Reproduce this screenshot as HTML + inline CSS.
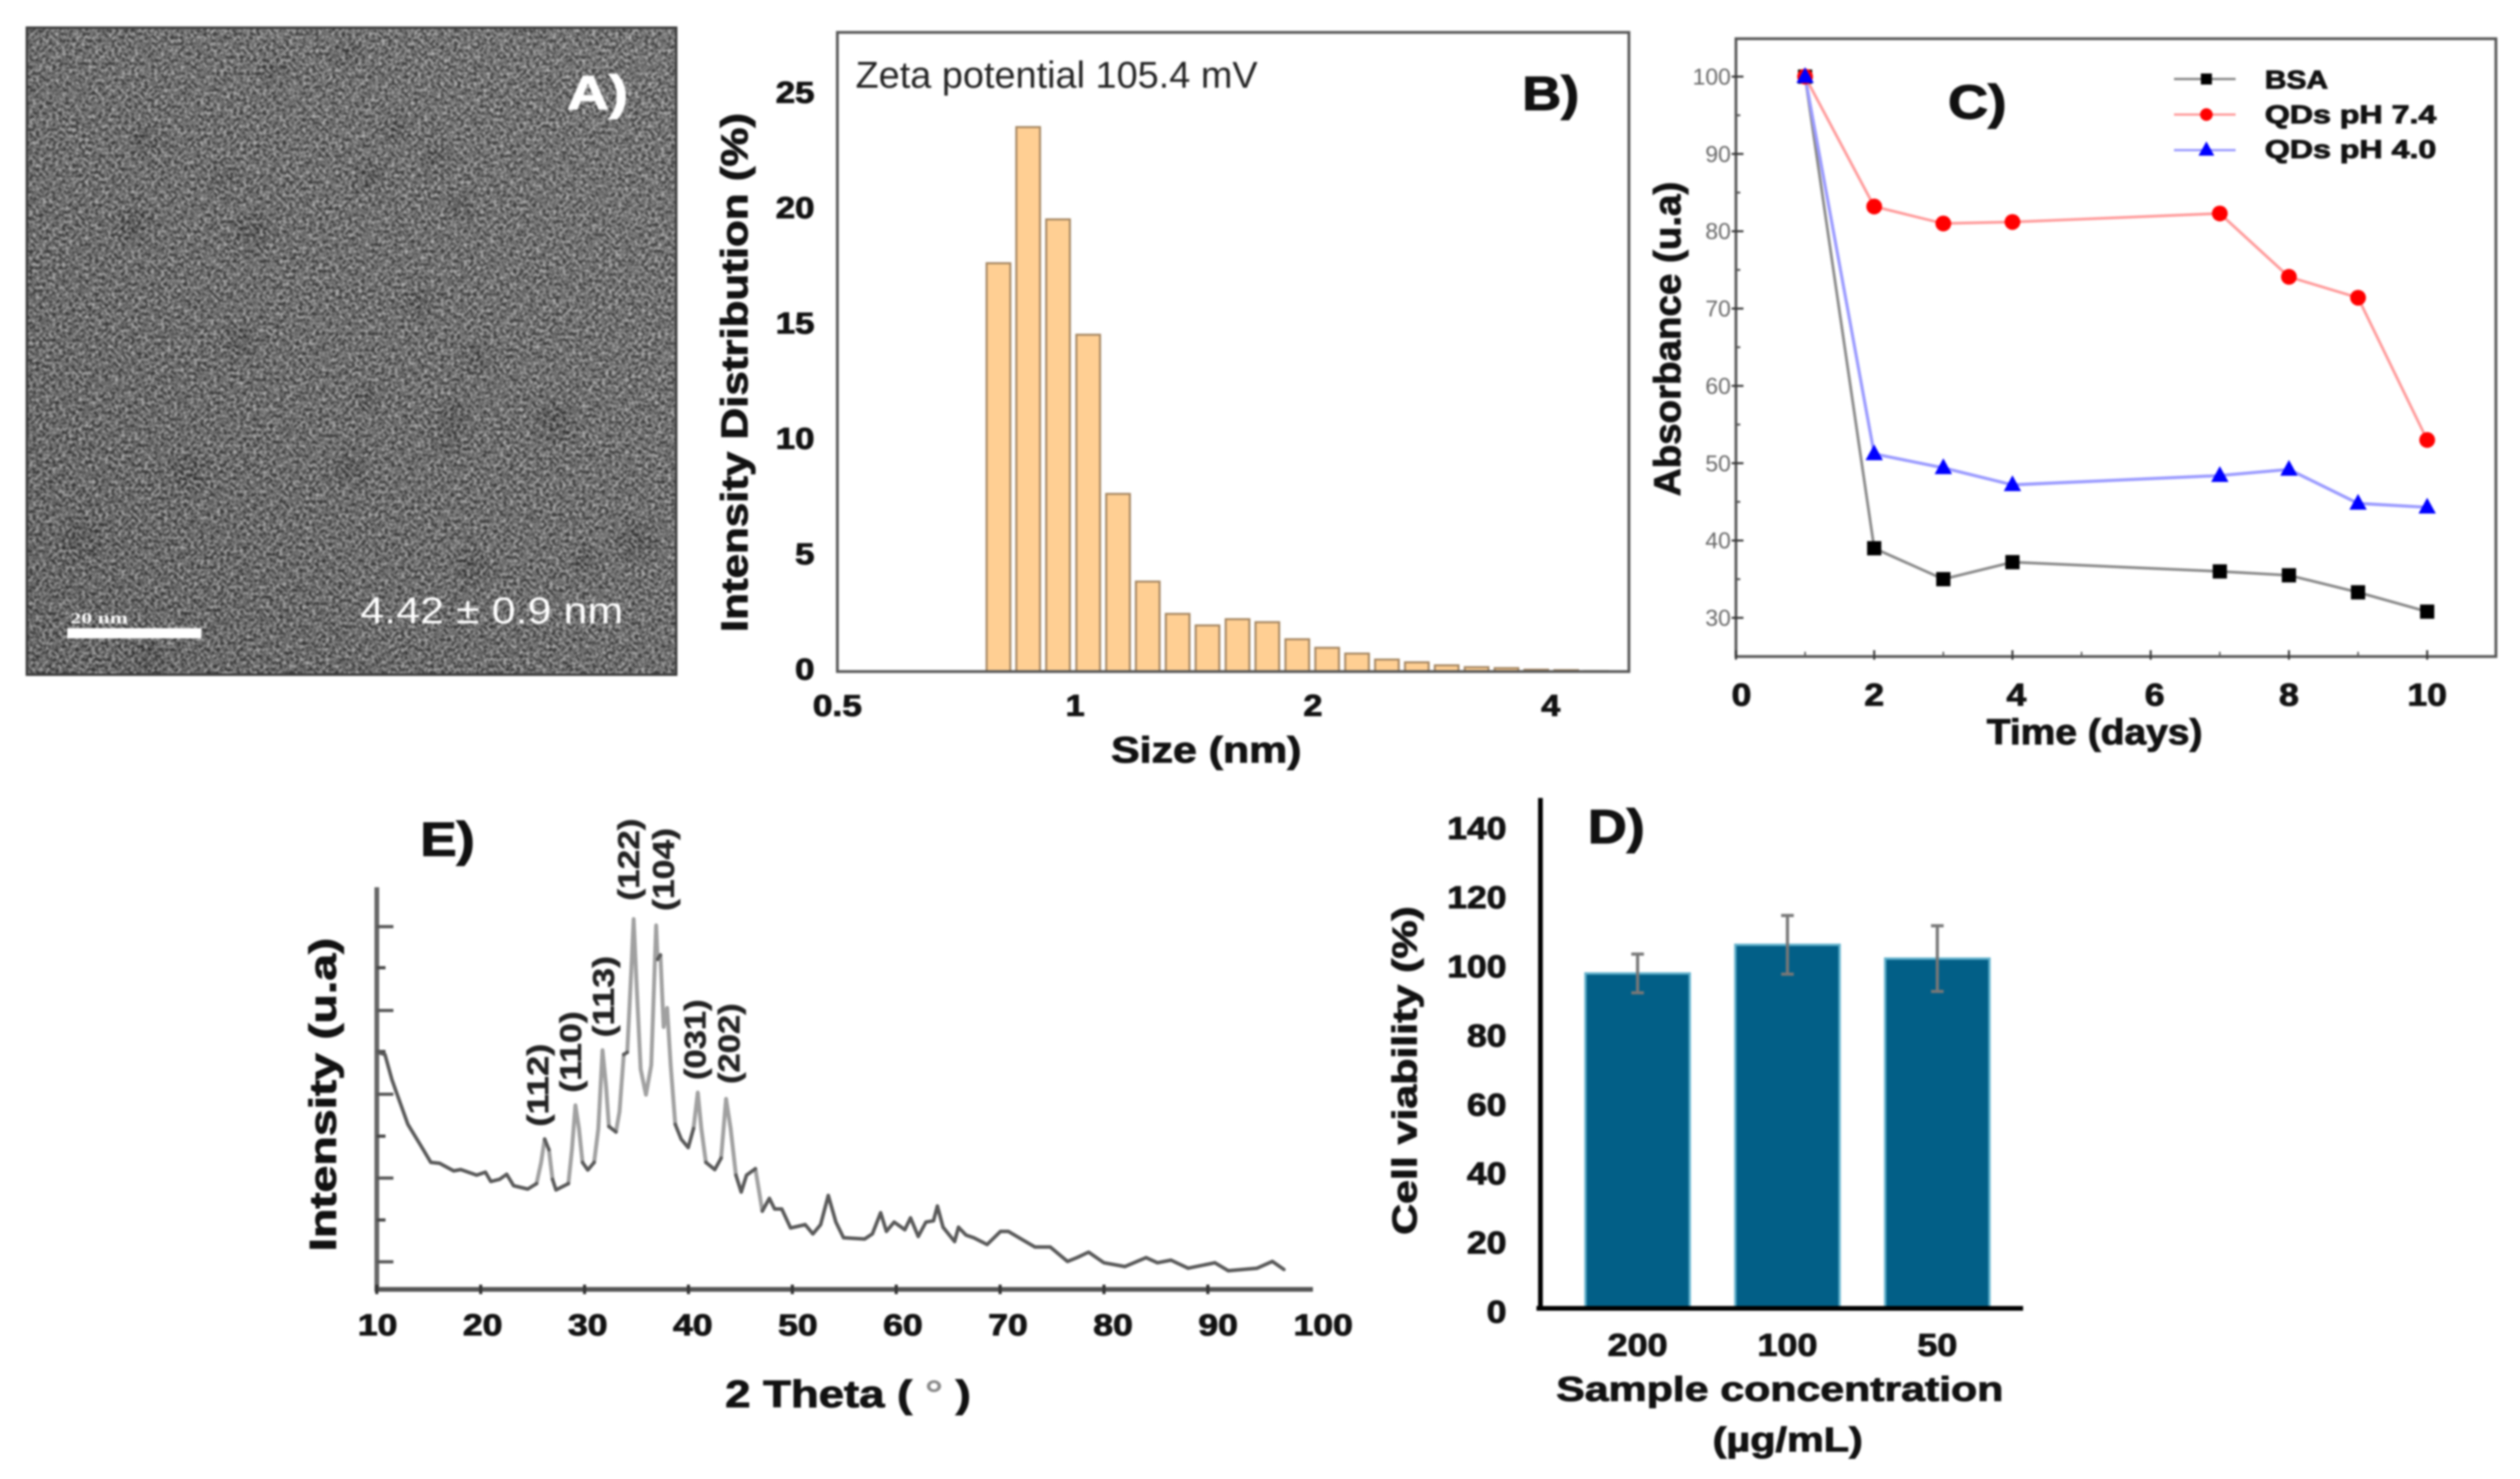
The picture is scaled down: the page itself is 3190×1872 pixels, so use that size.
<!DOCTYPE html>
<html lang="en">
<head>
<meta charset="utf-8">
<title>Quantum dot characterisation panels</title>
<style>
html,body{margin:0;padding:0;background:#fff;width:3190px;height:1872px;overflow:hidden}
#figure{display:block;position:absolute;left:0;top:0;filter:blur(1.3px)}
text{font-family:"Liberation Sans",sans-serif}
.b{font-weight:700;fill:#111;stroke:#111;stroke-width:1.1px}
.lbl{font-weight:700;fill:#111;font-size:60px;stroke:#111;stroke-width:1.4px}
</style>
</head>
<body>
<svg id="figure" xmlns="http://www.w3.org/2000/svg" width="3190" height="1872" viewBox="0 0 3190 1872">
<defs>
<linearGradient id="tem-bg" x1="1" y1="0" x2="0" y2="1">
<stop offset="0" stop-color="#787878"/><stop offset=".55" stop-color="#6c6c6c"/><stop offset="1" stop-color="#5e5e5e"/>
</linearGradient>
<filter id="tem-noise" x="0" y="0" width="100%" height="100%" color-interpolation-filters="sRGB">
<feTurbulence type="fractalNoise" baseFrequency=".24" numOctaves="2" seed="7"/>
<feColorMatrix type="matrix" values="2 0 0 0 -.56  2 0 0 0 -.56  2 0 0 0 -.56  0 0 0 0 .48"/>
</filter>
<filter id="blob-blur" x="-50%" y="-50%" width="200%" height="200%"><feGaussianBlur stdDeviation="6"/></filter>
<clipPath id="tem-clip"><rect x="33" y="34" width="824" height="821"/></clipPath>
</defs>
<rect width="3190" height="1872" fill="#fff"/>

<!-- Panel A -->
<g>
<rect x="33" y="34" width="824" height="821" fill="url(#tem-bg)"/>
<g clip-path="url(#tem-clip)"><g id="blobs" filter="url(#blob-blur)" fill="#2e2e2e" opacity=".36"></g></g>
<rect x="33" y="34" width="824" height="821" filter="url(#tem-noise)"/>
<rect x="34" y="35" width="822" height="819" fill="none" stroke="#3a3a3a" stroke-width="3"/>
<text x="718" y="138" font-size="60" font-weight="700" fill="#fff" stroke="#fff" stroke-width="1.4" textLength="77" lengthAdjust="spacingAndGlyphs">A)</text>
<rect x="85" y="795" width="170" height="13" fill="#fff"/>
<text x="89" y="789" font-size="20" font-weight="700" fill="#fff" style="font-family:'Liberation Serif',serif" textLength="73" lengthAdjust="spacingAndGlyphs">20 nm</text>
<text x="456" y="789" font-size="47" fill="#fff" textLength="333" lengthAdjust="spacingAndGlyphs">4.42 ± 0.9 nm</text>
</g>

<!-- Panel B -->
<g>
<g id="b-bars"></g>
<rect x="1060" y="41" width="1002" height="809" fill="none" stroke="#555" stroke-width="3.5"/>
<g id="b-ticks"></g>
<text class="b" transform="translate(946 800) rotate(-90)" font-size="47" textLength="657" lengthAdjust="spacingAndGlyphs">Intensity Distribution (%)</text>
<text class="b" x="1527" y="965" font-size="46" text-anchor="middle" textLength="241" lengthAdjust="spacingAndGlyphs">Size (nm)</text>
<text x="1083" y="111" font-size="47" fill="#222" textLength="509" lengthAdjust="spacingAndGlyphs">Zeta potential 105.4 mV</text>
<text class="lbl" x="1927" y="139" textLength="72" lengthAdjust="spacingAndGlyphs">B)</text>
</g>

<!-- Panel C -->
<g>
<rect x="2197.5" y="49" width="962" height="782" fill="none" stroke="#555" stroke-width="3.5"/>
<g id="c-axes"></g>
<g id="c-series"></g>
<text class="b" transform="translate(2127 628) rotate(-90)" font-size="47" textLength="398" lengthAdjust="spacingAndGlyphs">Absorbance (u.a)</text>
<text class="b" x="2515" y="942" font-size="45" textLength="273" lengthAdjust="spacingAndGlyphs">Time (days)</text>
<text class="lbl" x="2466" y="150" textLength="74" lengthAdjust="spacingAndGlyphs">C)</text>
<g>
<g>
<line x1="2752" y1="100" x2="2830" y2="100" stroke="#888" stroke-width="3"/>
<rect x="2786" y="93" width="14" height="14" fill="#000"/>
<text class="b" x="2867" y="112" font-size="32" textLength="80" lengthAdjust="spacingAndGlyphs">BSA</text>
</g>
<g>
<line x1="2752" y1="145" x2="2830" y2="145" stroke="#ff9a9a" stroke-width="3"/>
<circle cx="2793" cy="145" r="8" fill="#f00"/>
<text class="b" x="2867" y="156" font-size="32" textLength="217" lengthAdjust="spacingAndGlyphs">QDs pH 7.4</text>
</g>
<g>
<line x1="2752" y1="190" x2="2830" y2="190" stroke="#9a9aff" stroke-width="3"/>
<polygon points="2793,179 2803,197 2783,197" fill="#00f"/>
<text class="b" x="2867" y="200" font-size="32" textLength="217" lengthAdjust="spacingAndGlyphs">QDs pH 4.0</text>
</g>
</g>
</g>

<!-- Panel D -->
<g>
<g id="d-bars"></g>
<line x1="1950" y1="1010" x2="1950" y2="1659" stroke="#000" stroke-width="6"/>
<line x1="1945" y1="1656" x2="2561" y2="1656" stroke="#000" stroke-width="6"/>
<g id="d-ticks"></g>
<text class="b" transform="translate(1793 1563) rotate(-90)" font-size="44" textLength="416" lengthAdjust="spacingAndGlyphs">Cell viability (%)</text>
<text class="b" x="1970" y="1773" font-size="44" textLength="566" lengthAdjust="spacingAndGlyphs">Sample concentration</text>
<text class="b" x="2168" y="1837" font-size="44" textLength="190" lengthAdjust="spacingAndGlyphs">(µg/mL)</text>
<text class="lbl" x="2010" y="1067" textLength="72" lengthAdjust="spacingAndGlyphs">D)</text>
</g>

<!-- Panel E -->
<g>
<line x1="477" y1="1123" x2="477" y2="1635" stroke="#666" stroke-width="6"/>
<line x1="474" y1="1632" x2="1662" y2="1632" stroke="#555" stroke-width="6"/>
<g id="e-axes"></g>
<path id="e-trace-steep" fill="none" stroke="#a0a0a0" stroke-width="5" stroke-linecap="round"/>
<path id="e-trace-flat" fill="none" stroke="#585858" stroke-width="4.5" stroke-linecap="round"/>
<text class="b" transform="translate(425 1584) rotate(-90)" font-size="47" textLength="397" lengthAdjust="spacingAndGlyphs">Intensity (u.a)</text>
<text class="b" x="918" y="1781" font-size="48" textLength="311" lengthAdjust="spacingAndGlyphs">2 Theta ( <tspan fill="#888" stroke="none">°</tspan> )</text>
<text class="lbl" x="532" y="1083" textLength="69" lengthAdjust="spacingAndGlyphs">E)</text>
<g font-size="38" font-weight="700" fill="#222" stroke="#222" stroke-width=".6">
<text transform="translate(694 1426) rotate(-90)" textLength="105" lengthAdjust="spacingAndGlyphs">(112)</text>
<text transform="translate(735.5 1383) rotate(-90)" textLength="103" lengthAdjust="spacingAndGlyphs">(110)</text>
<text transform="translate(777 1313) rotate(-90)" textLength="103" lengthAdjust="spacingAndGlyphs">(113)</text>
<text transform="translate(809 1140) rotate(-90)" textLength="104" lengthAdjust="spacingAndGlyphs">(122)</text>
<text transform="translate(853 1153) rotate(-90)" textLength="105" lengthAdjust="spacingAndGlyphs">(104)</text>
<text transform="translate(893 1367) rotate(-90)" textLength="102" lengthAdjust="spacingAndGlyphs">(031)</text>
<text transform="translate(936 1372) rotate(-90)" textLength="102" lengthAdjust="spacingAndGlyphs">(202)</text>
</g>
</g>
</svg>

<script>
// ---- Panel B data ----
const sizeCategories = [0.796,0.868,0.947,1.034,1.128,1.23,1.342,1.464,1.598,1.743,1.902,2.075,2.264,2.47,2.695,2.94,3.208,3.5,3.818,4.166,4.545];
const intensityValues = [17.7,23.6,19.6,14.6,7.7,3.9,2.5,2.0,2.27,2.14,1.4,1.03,0.78,0.52,0.4,0.27,0.19,0.15,0.08,0.06,0.02];
const sizeYTicks = [0,5,10,15,20,25];
const sizeXTicks = [0.5,1,2,4];

// ---- Panel C data ----
const days = [1,2,3,4,7,8,9,10];
const bsaValues = [100,39,35,37.2,36,35.5,33.3,30.8];
const qdsPh74Values = [100,83.2,81,81.2,82.3,74.1,71.4,53];
const qdsPh40Values = [100,51.2,49.4,47.2,48.4,49.2,44.8,44.3];
const timeMajorTicks = [0,2,4,6,8,10];
const timeMinorTicks = [1,3,5,7,9];
const absMajorTicks = [30,40,50,60,70,80,90,100];
const absMinorTicks = [35,45,55,65,75,85,95];

// ---- Panel D data ----
const concentrations = ['200','100','50'];
const viabilityValues = [97,105.3,101.3];
const viabilityErrors = [5.6,8.5,9.5];
const viabilityTicks = [0,20,40,60,80,100,120,140];

// ---- Panel E data ----
const twoTheta = [10.1,10.78,11.46,11.97,12.99,14.35,15.2,16.04,17.4,18.08,19.61,20.46,20.97,21.82,22.5,23.17,24.53,25.38,25.82,26.16,26.57,26.91,27.25,28.44,28.78,29.12,29.46,29.8,30.31,30.92,31.32,31.73,32.07,32.34,33.02,33.36,33.77,34.11,34.55,34.72,34.99,35.4,35.91,36.42,36.89,37.03,37.3,37.61,37.95,38.29,38.73,39.3,39.98,40.49,40.9,41.24,41.68,42.53,43.14,43.62,44.06,44.57,45.08,45.59,46.44,47.11,47.79,48.3,48.98,49.83,51.24,51.98,52.72,53.46,54.19,54.93,56.96,57.7,58.5,59.06,59.8,60.83,61.38,62.12,62.86,63.59,63.96,64.51,65.62,65.99,66.73,67.46,68.75,70.04,70.78,72.25,73.36,74.83,76.49,77.4,78.52,79.99,82.02,84.05,85.15,86.45,88.1,90.68,91.97,94.74,96.21,97.32];
const xrdIntensity = [560,555,495,460,390,335,300,298,280,283,270,277,255,260,272,245,237,250,300,355,330,260,235,250,330,435,380,300,282,300,380,565,480,385,372,420,555,560,780,875,730,520,460,530,860,780,790,620,665,530,390,355,335,380,465,380,300,283,310,450,380,270,230,270,285,185,215,190,190,145,153,131,153,222,159,122,119,131,181,137,159,141,169,125,159,162,197,147,113,147,128,122,106,137,137,116,100,100,66,75,88,63,54,75,63,69,50,63,44,50,66,47];
const thetaTicks = [10,20,30,40,50,60,70,80,90,100];
const intensityMajorTicks = [65,263,461,659,857];
const intensityMinorTicks = [164,362,562,760];

// ---- Panel A particle readings (image-space spots) ----
const particleX = [103,703,574,304,321,603,806,184,169,442,238,189,740,597,551,468,284,439,531,465,583,344,502,568];
const particleY = [683,534,531,433,293,453,686,178,284,591,597,829,709,717,201,221,224,66,385,505,261,89,164,560];
const particleR = [24,26,22,20,22,17,24,17,20,21,21,20,16,20,16,17,14,15,17,15,15,15,15,15];

// ---- Axis functions ----
function xB(size){ return 1062 + Math.log2(size/0.5)*301; }
function yB(v){ return 850 - v*29.2; }
function xC(d){ return 2197.5 + d*87.5; }
function yC(v){ return 782 - (v-30)*9.786; }
function xD(i){ return 2073 + i*189.7; }
function yD(v){ return 1656 - v*4.37; }
function xE(t){ return 477 + (t-10)*13.15; }
function yE(v){ return 1632 - v*0.5357; }
function xELabel(t){ return 478 + (t-10)*13.3; }

const NS = 'http://www.w3.org/2000/svg';
function svgEl(tag, attrs, parent, txt){
  const e = document.createElementNS(NS, tag);
  for (const k in attrs) e.setAttribute(k, attrs[k]);
  if (txt !== undefined) e.textContent = txt;
  parent.appendChild(e);
  return e;
}
let el;

// Panel A particles
const blobs = document.getElementById('blobs');
particleX.forEach(function(px, i){
  el = svgEl('circle', {cx:px, cy:particleY[i], r:particleR[i]}, blobs);
  
  
});

// Panel B bars
const bBars = document.getElementById('b-bars');
sizeCategories.forEach(function(s, i){
  const cx = xB(s), top = yB(intensityValues[i]);
  el = svgEl('rect', {x:cx-15, y:top, width:30, height:yB(0)-top, fill:'#ffcf93', stroke:'#a3845f', 'stroke-width':2.5}, bBars);
  
  
});
const bTicks = document.getElementById('b-ticks');
sizeYTicks.forEach(function(v){
  const s = String(v);
  el = svgEl('text', {x:1031, y:yB(v)+10, 'text-anchor':'end', 'font-size':38, class:'b', textLength:s.length*24.5, lengthAdjust:'spacingAndGlyphs'}, bTicks, s);
  
  
});
sizeXTicks.forEach(function(v){
  const s = String(v);
  el = svgEl('text', {x:xB(v)-2, y:906, 'text-anchor':'middle', 'font-size':38, class:'b', textLength:s.length==3?62:24, lengthAdjust:'spacingAndGlyphs'}, bTicks, s);
  
  
});

// Panel C axes
const cAxes = document.getElementById('c-axes');
absMajorTicks.forEach(function(v){
  el = svgEl('line', {x1:2192, x2:2207, y1:yC(v), y2:yC(v), stroke:'#333', 'stroke-width':2.5}, cAxes);
  
  
  el = svgEl('text', {x:2191, y:yC(v)+10, 'text-anchor':'end', 'font-size':29, fill:'#666'}, cAxes, String(v));
  
  
});
absMinorTicks.forEach(function(v){
  el = svgEl('line', {x1:2197.5, x2:2203, y1:yC(v), y2:yC(v), stroke:'#555', 'stroke-width':2.5}, cAxes);
  
  
});
timeMajorTicks.forEach(function(d){
  el = svgEl('line', {x1:xC(d), x2:xC(d), y1:835, y2:823, stroke:'#333', 'stroke-width':2.5}, cAxes);
  
  
  el = svgEl('text', {x:xC(d)+(d==0?7:d==4||d==6?5:0), y:893, 'text-anchor':'middle', 'font-size':40, class:'b', textLength:d==10?50:25, lengthAdjust:'spacingAndGlyphs'}, cAxes, String(d));
  
  
});
timeMinorTicks.forEach(function(d){
  el = svgEl('line', {x1:xC(d), x2:xC(d), y1:831, y2:825, stroke:'#555', 'stroke-width':2}, cAxes);
  
  
});

// Panel C series
const cSeries = document.getElementById('c-series');
function pts(vals){ return days.map(function(d,i){ return xC(d)+','+yC(vals[i]); }).join(' '); }
el = svgEl('polyline', {points:pts(bsaValues), fill:'none', stroke:'#888', 'stroke-width':3.5}, cSeries);


el = svgEl('polyline', {points:pts(qdsPh74Values), fill:'none', stroke:'#ff9a9a', 'stroke-width':3.5}, cSeries);


el = svgEl('polyline', {points:pts(qdsPh40Values), fill:'none', stroke:'#9a9aff', 'stroke-width':4}, cSeries);


days.forEach(function(d,i){
  el = svgEl('rect', {x:xC(d)-9, y:yC(bsaValues[i])-9, width:18, height:18, fill:'#000'}, cSeries);
  
  
});
days.forEach(function(d,i){
  el = svgEl('circle', {cx:xC(d), cy:yC(qdsPh74Values[i]), r:10, fill:'#f00'}, cSeries);
  
  
});
days.forEach(function(d,i){
  const x = xC(d), y = yC(qdsPh40Values[i]);
  el = svgEl('polygon', {points:x+','+(y-12)+' '+(x+11)+','+(y+8)+' '+(x-11)+','+(y+8), fill:'#00f'}, cSeries);
  
  
});

// Panel D bars
const dBars = document.getElementById('d-bars');
concentrations.forEach(function(c,i){
  const cx = xD(i), top = yD(viabilityValues[i]);
  el = svgEl('rect', {x:cx-66, y:top, width:132, height:yD(0)-top, fill:'#025f87', stroke:'#62b2cd', 'stroke-width':3}, dBars);
  
  
  const hi = yD(viabilityValues[i]+viabilityErrors[i]), lo = yD(viabilityValues[i]-viabilityErrors[i]);
  el = svgEl('path', {d:'M'+(cx-8)+' '+hi+'H'+(cx+8)+'M'+cx+' '+hi+'V'+lo+'M'+(cx-8)+' '+lo+'H'+(cx+8), fill:'none', stroke:'#777', 'stroke-width':4}, dBars);
  
  
});
const dTicks = document.getElementById('d-ticks');
viabilityTicks.forEach(function(v){
  const s = String(v);
  el = svgEl('text', {x:1907, y:yD(v)+18, 'text-anchor':'end', 'font-size':40, class:'b', textLength:s.length*25, lengthAdjust:'spacingAndGlyphs'}, dTicks, s);
  
  
});
concentrations.forEach(function(c,i){
  el = svgEl('text', {x:xD(i), y:1716, 'text-anchor':'middle', 'font-size':40, class:'b', textLength:c.length*25.3, lengthAdjust:'spacingAndGlyphs'}, dTicks, c);
  
  
});

// Panel E axes and trace
const eAxes = document.getElementById('e-axes');
thetaTicks.forEach(function(t){
  if (t < 100) {
    el = svgEl('line', {x1:xE(t), x2:xE(t), y1:1626, y2:1638, stroke:'#333', 'stroke-width':4}, eAxes);
    
    
  }
  const s = String(t);
  el = svgEl('text', {x:xELabel(t), y:1690, 'text-anchor':'middle', 'font-size':38, class:'b', textLength:s.length*25, lengthAdjust:'spacingAndGlyphs'}, eAxes, s);
  
  
});
intensityMajorTicks.forEach(function(v){
  el = svgEl('line', {x1:477, x2:498, y1:yE(v), y2:yE(v), stroke:'#555', 'stroke-width':4}, eAxes);
  
  
});
intensityMinorTicks.forEach(function(v){
  el = svgEl('line', {x1:477, x2:488, y1:yE(v), y2:yE(v), stroke:'#444', 'stroke-width':4}, eAxes);
  
  
});
let steepPath = '', flatPath = '';
twoTheta.forEach(function(t, i){
  if (i === 0) return;
  const x0 = xE(twoTheta[i-1]), y0 = yE(xrdIntensity[i-1]), x1 = xE(t), y1 = yE(xrdIntensity[i]);
  const seg = 'M'+x0.toFixed(1)+' '+y0.toFixed(1)+'L'+x1.toFixed(1)+' '+y1.toFixed(1);
  if (Math.abs(y1-y0)/(x1-x0) > 4) steepPath += seg; else flatPath += seg;
});
document.getElementById('e-trace-steep').setAttribute('d', steepPath);
document.getElementById('e-trace-flat').setAttribute('d', flatPath);
</script>
</body>
</html>
